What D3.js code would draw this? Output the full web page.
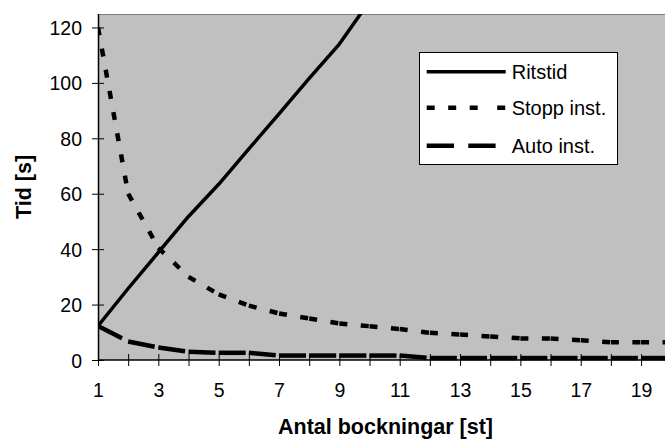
<!DOCTYPE html>
<html>
<head>
<meta charset="utf-8">
<script src="https://cdn.jsdelivr.net/npm/d3@7"></script>
<style>
	body { margin: 0; background: #fff; }
	text { font-family: Arial, "Liberation Sans", sans-serif; }
</style>
</head>
<body>
<div id="chart"></div>
<script>
const width = 665;
const height = 443;

// data
const antal = d3.range(1, 21);
const ritstid = [12.3, 25.8, 38.8, 51.8, 63.4, 76.2, 88.8, 101.6, 114, 129.5];
const stoppInst = [120, 60, 40.5, 30, 23.7, 19.6, 16.8, 15, 13.2, 12.2, 11.2, 9.8, 9.2, 8.5, 7.8, 7.8, 7.1, 6.4, 6.4, 6.4];
const autoInst = [12.3, 6.7, 4.5, 3, 2.6, 2.6, 1.6, 1.6, 1.6, 1.6, 1.6, 0.7, 0.7, 0.7, 0.7, 0.7, 0.7, 0.7, 0.7, 0.7];
const yTicks = [0, 20, 40, 60, 80, 100, 120];
const xLabels = antal.filter(d => d % 2 == 1);

const series = [
	{ name: "Ritstid", values: ritstid, dash: null, w: 3.5 },
	{ name: "Stopp inst.", values: stoppInst, dash: "8,13.5", w: 4.5 },
	{ name: "Auto inst.", values: autoInst, dash: "27,14", w: 4.5 }
];

const plot = { left: 98, top: 14, right: 665, bottom: 360 };

const x = d3.scaleLinear().domain([1, 20]).range([98, 98 + 19 * 30.17]);
const y = d3.scaleLinear().domain([0, 125]).range([360, 13.6]);

const svg = d3
	.select("#chart")
	.append("svg")
	.attr("width", width)
	.attr("height", height);

svg.append("rect")
	.attr("x", plot.left)
	.attr("y", plot.top)
	.attr("width", plot.right - plot.left)
	.attr("height", plot.bottom - plot.top)
	.attr("fill", "#c0c0c0");

// top frame line
svg.append("line")
	.attr("x1", plot.left)
	.attr("x2", plot.right)
	.attr("y1", plot.top + 0.5)
	.attr("y2", plot.top + 0.5)
	.style("stroke", "#808080");

svg.append("clipPath")
	.attr("id", "clip")
	.append("rect")
	.attr("x", plot.left)
	.attr("y", plot.top)
	.attr("width", plot.right - plot.left)
	.attr("height", 60 + plot.bottom - plot.top);

// axes
const yAxis = svg.append("g")
	.attr("transform", "translate(" + plot.left + ",0)")
	.call(d3.axisLeft(y).tickValues(yTicks).tickSize(6).tickPadding(10));
yAxis.select(".domain").remove();
yAxis.selectAll("line").attr("x1", 6).attr("x2", -6).style("stroke", "#000");
yAxis.selectAll("text")
	.attr("dy", "0.36em")
	.style("font-size", "19.5px")
	.attr("fill", "#000");

const xAxis = svg.append("g")
	.attr("transform", "translate(0," + plot.bottom + ")")
	.call(d3.axisBottom(x).tickValues(antal).tickFormat(d => (d % 2 == 1 ? d : "")).tickSize(6));
xAxis.select(".domain").remove();
xAxis.selectAll("line").attr("y1", -6).attr("y2", 6).style("stroke", "#000");
xAxis.selectAll("text")
	.attr("y", 37)
	.attr("dy", 0)
	.style("font-size", "19.5px")
	.attr("fill", "#000");

svg.append("line")
	.attr("x1", plot.left + 0.5)
	.attr("x2", plot.left + 0.5)
	.attr("y1", plot.top)
	.attr("y2", plot.bottom)
	.style("stroke", "#000")
	.style("stroke-width", 1.5);
svg.append("line")
	.attr("x1", plot.left)
	.attr("x2", plot.right)
	.attr("y1", plot.bottom)
	.attr("y2", plot.bottom)
	.style("stroke", "#000")
	.style("stroke-width", 1.5);

// lines, drawn one segment at a time so the dash pattern restarts at each point (like excel)
const line = d3.line().x(d => x(d[0])).y(d => y(d[1]));
const lines = svg.append("g").attr("clip-path", "url(#clip)");

series.forEach(s => {
	const pts = s.values.map((v, i) => [antal[i], v]);
	if (!s.dash) {
		lines.append("path")
			.attr("d", line(pts))
			.attr("fill", "none")
			.style("stroke", "#000")
			.style("stroke-width", s.w)
			.style("stroke-linejoin", "round");
		return;
	}
	d3.pairs(pts).forEach(p => {
		lines.append("path")
			.attr("d", line(p))
			.attr("fill", "none")
			.style("stroke", "#000")
			.style("stroke-width", s.w)
			.style("stroke-dasharray", s.dash);
	});
});

// legend
const legend = svg.append("g");
legend.append("rect")
	.attr("x", 419.5)
	.attr("y", 52.5)
	.attr("width", 198)
	.attr("height", 112)
	.attr("fill", "#fff")
	.style("stroke", "#000");

const legendDash = [null, "8,13.5,8,13.5,8,19.5,8", "27.3,14.3,27.3,20"];
const rowY = [71.7, 107.7, 145.7];

series.forEach((s, i) => {
	legend.append("line")
		.attr("x1", 426.7)
		.attr("x2", 505.7)
		.attr("y1", rowY[i])
		.attr("y2", rowY[i])
		.style("stroke", "#000")
		.style("stroke-width", s.w)
		.style("stroke-dasharray", legendDash[i]);
	legend.append("text")
		.attr("x", 511.7)
		.attr("y", rowY[i] + 7)
		.style("font-size", "20px")
		.text(s.name);
});

// axis titles
svg.append("text")
	.attr("x", 385.5)
	.attr("y", 434)
	.style("font-size", "21.5px")
	.style("font-weight", "bold")
	.style("text-anchor", "middle")
	.text("Antal bockningar [st]");

svg.append("text")
	.attr("transform", "translate(31,187) rotate(-90)")
	.style("font-size", "21.5px")
	.style("font-weight", "bold")
	.style("text-anchor", "middle")
	.text("Tid [s]");
</script>
</body>
</html>
